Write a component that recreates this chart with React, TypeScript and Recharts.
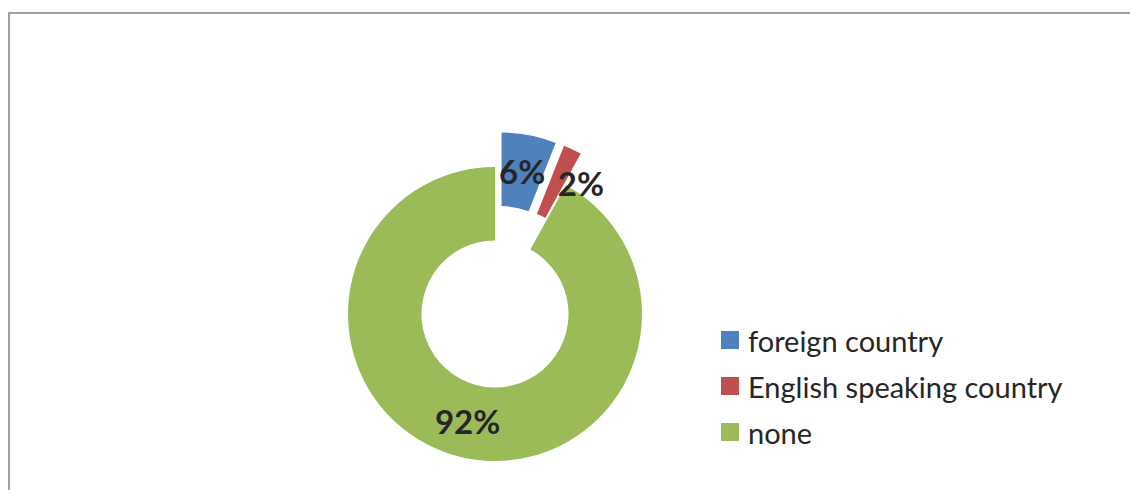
import { PieChart, Pie, Cell, Legend } from 'recharts';

const categories = ['foreign country', 'English speaking country', 'none'];
const shares = [6, 2, 92];
const colors = ['#4F81BD', '#C0504D', '#9BBB59'];
const exploded = [true, true, false];

const data = categories.map((name, i) => ({ name, value: shares[i] }));

const CX = 495;
const CY = 314;
const OUTER = 147;
const INNER = 73.5;
const EXPLODE = 35;
const RADIAN = Math.PI / 180;
const FONT = 'Lato, "Open Sans", sans-serif';
// Excel nudged the small red label sideways so it doesn't sit on the slice
const labelNudge = [0, 24, 0];

const total = shares.reduce((a, b) => a + b, 0);

// centre of each slice after it is pulled out along its bisector
const centres = shares.map((v, i) => {
    const before = shares.slice(0, i).reduce((a, b) => a + b, 0);
    const mid = ((before + v / 2) / total) * 360; // clockwise from 12 o'clock
    const d = exploded[i] ? EXPLODE : 0;
    return { cx: CX + d * Math.sin(mid * RADIAN), cy: CY - d * Math.cos(mid * RADIAN) };
});

const makeLabel = (own: number) => (props: any) => {
    const { cx, cy, midAngle, innerRadius, outerRadius, index, value } = props;
    if (index !== own) return null;
    const r = (innerRadius + outerRadius) / 2;
    const x = cx + r * Math.cos(-midAngle * RADIAN) + labelNudge[index];
    const y = cy + r * Math.sin(-midAngle * RADIAN);
    return (
        <text
            x={x}
            y={y}
            textAnchor="middle"
            dominantBaseline="central"
            fill="#262626"
            fontFamily={FONT}
            fontWeight={700}
            fontSize={33}
        >
            {`${value}%`}
        </text>
    );
};

const LegendBox = () => (
    <div style={{ fontFamily: FONT, fontSize: 29, color: '#262626' }}>
        {categories.map((name, i) => (
            <div key={name} style={{ display: 'flex', alignItems: 'center', height: 46 }}>
                <span
                    style={{
                        display: 'inline-block',
                        width: 18,
                        height: 18,
                        background: colors[i],
                        marginRight: 9,
                    }}
                />
                <span>{name}</span>
            </div>
        ))}
    </div>
);

export default function App() {
    return (
        <div style={{ position: 'absolute', left: 0, top: 0, width: 1130, height: 490, background: '#fff' }}>
            <div
                style={{
                    position: 'absolute',
                    left: 8,
                    top: 12,
                    width: 1140,
                    height: 500,
                    border: '2px solid #a0a0a0',
                    boxSizing: 'border-box',
                }}
            />
            <div style={{ position: 'absolute', left: 0, top: 0 }}>
                <PieChart width={1130} height={490} margin={{ top: 0, right: 0, bottom: 0, left: 0 }}>
                    {categories.map((_, k) => (
                        <Pie
                            key={k}
                            data={data}
                            dataKey="value"
                            nameKey="name"
                            cx={centres[k].cx}
                            cy={centres[k].cy}
                            innerRadius={INNER}
                            outerRadius={OUTER}
                            startAngle={90}
                            endAngle={-270}
                            stroke="none"
                            label={makeLabel(k)}
                            labelLine={false}
                            legendType="none"
                            isAnimationActive={false}
                        >
                            {data.map((entry, i) => (
                                <Cell key={`cell-${k}-${i}`} fill={i === k ? colors[i] : 'none'} strokeWidth={0} />
                            ))}
                        </Pie>
                    ))}
                    <Legend
                        content={<LegendBox />}
                        wrapperStyle={{ position: 'absolute', left: 721, top: 317, width: 400 }}
                    />
                </PieChart>
            </div>
        </div>
    );
}
